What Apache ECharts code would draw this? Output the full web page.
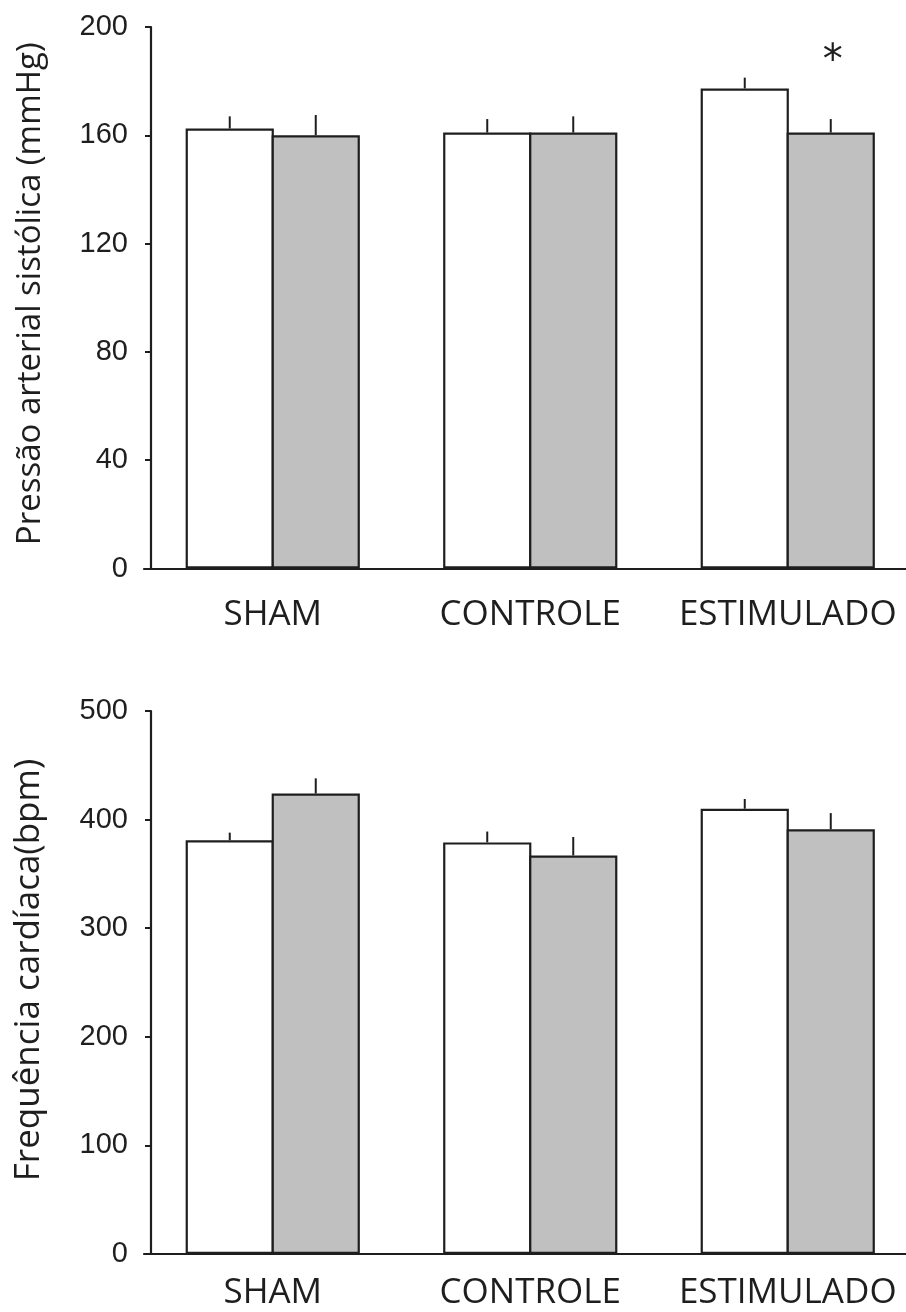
<!DOCTYPE html>
<html>
<head>
<meta charset="utf-8">
<script src="https://cdn.jsdelivr.net/npm/echarts@6/dist/echarts.min.js"></script>
<style>
  html, body { margin: 0; padding: 0; background: #fff; }
  #chart { width: 906px; height: 1312px; }
</style>
</head>
<body>
<div id="chart"></div>
<script>
// Groups on the horizontal axis
const categories = ['SHAM', 'CONTROLE', 'ESTIMULADO'];

// Systolic arterial pressure (mmHg): mean and SEM for the two conditions
const pasWhite = [162.5, 161, 177.3];
const pasWhiteErr = [4.5, 5, 4];
const pasGrey = [160, 161, 161];
const pasGreyErr = [7.5, 6, 5];
// Significance marks over the grey bars, with the height they sit at
const pasGreyMark = ['', '', '*'];
const pasMarkLevel = 187;

// Heart rate (bpm): mean and SEM for the two conditions
const fcWhite = [381, 379, 410];
const fcWhiteErr = [7, 10, 9];
const fcGrey = [424, 367, 391];
const fcGreyErr = [14, 17, 15];

// Tick settings of the value axes
const pasTicks = { min: 0, max: 200, interval: 40 };
const fcTicks = { min: 0, max: 500, interval: 100 };

const INK = '#1e1e1e';
const BAR_W = 86;          // visible bar width (outline centre to outline centre)
const BORDER = 2.2;        // bar outline width; ECharts draws it inside the bar box

const chart = echarts.init(document.getElementById('chart'), null, { renderer: 'canvas' });

function errorSeries(idx, values, errs, side) {
  return {
    type: 'custom',
    xAxisIndex: idx,
    yAxisIndex: idx,
    z: 1,
    silent: true,
    data: values.map((v, i) => [i, v, v + errs[i]]),
    renderItem: function (params, api) {
      const base = api.coord([api.value(0), api.value(1)]);
      const top = api.coord([api.value(0), api.value(2)]);
      const x = base[0] + side * BAR_W / 2;
      return {
        type: 'line',
        shape: { x1: x, y1: base[1], x2: x, y2: top[1] },
        style: { stroke: INK, lineWidth: 2 }
      };
    }
  };
}

function markSeries(idx, marks, level, side) {
  return {
    type: 'custom',
    xAxisIndex: idx,
    yAxisIndex: idx,
    silent: true,
    data: marks.map((m, i) => [i, level, m]),
    renderItem: function (params, api) {
      const text = marks[params.dataIndex];
      if (!text) return null;
      const p = api.coord([api.value(0), api.value(1)]);
      return {
        type: 'text',
        style: {
          x: p[0] + side * BAR_W / 2 + 2,
          y: p[1],
          text: text,
          fill: INK,
          font: '40px "DejaVu Sans"',
          align: 'center',
          verticalAlign: 'middle'
        }
      };
    }
  };
}

function barSeries(idx, values, fill) {
  // the box is widened by the outline so neighbouring bars share one edge
  const boxW = BAR_W + BORDER;
  return {
    type: 'bar',
    xAxisIndex: idx,
    yAxisIndex: idx,
    data: values,
    barWidth: boxW,
    barGap: (-BORDER / boxW * 100) + '%',
    z: 2,
    itemStyle: { color: fill, borderColor: INK, borderWidth: BORDER },
    emphasis: { disabled: true }
  };
}

function xAxisCfg(idx, margin) {
  return {
    type: 'category',
    gridIndex: idx,
    data: categories,
    axisLine: { show: true, lineStyle: { color: INK, width: 2.2 } },
    axisTick: { show: false },
    axisLabel: {
      interval: 0,
      margin: margin,
      fontFamily: 'Open Sans',
      fontSize: 35,
      color: INK
    }
  };
}

function yAxisCfg(idx, ticks, name, nameSize, namePad) {
  return {
    type: 'value',
    gridIndex: idx,
    min: ticks.min,
    max: ticks.max,
    interval: ticks.interval,
    offset: -7,
    name: name,
    nameLocation: 'middle',
    nameRotate: 90,
    nameGap: 104,
    nameTextStyle: {
      fontFamily: 'Open Sans',
      fontSize: nameSize,
      color: INK,
      padding: namePad
    },
    splitLine: { show: false },
    axisLine: { show: true, lineStyle: { color: INK, width: 2.2 } },
    axisTick: { show: true, length: 6, lineStyle: { color: INK, width: 2 } },
    axisLabel: {
      margin: 23,
      fontFamily: 'Liberation Sans',
      fontSize: 29,
      color: INK
    }
  };
}

chart.setOption({
  animation: false,
  backgroundColor: '#ffffff',
  grid: [
    { left: 144, width: 772.5, top: 27, height: 541.5, outerBoundsMode: 'none', containLabel: false },
    { left: 144, width: 772.5, top: 711, height: 543, outerBoundsMode: 'none', containLabel: false }
  ],
  xAxis: [xAxisCfg(0, 29), xAxisCfg(1, 22)],
  yAxis: [
    yAxisCfg(0, pasTicks, 'Pressão arterial sistólica (mmHg)', 33, [0, 0, 0, 8]),
    yAxisCfg(1, fcTicks, 'Frequência cardíaca(bpm)', 35, [0, 0, 0, 25])
  ],
  series: [
    barSeries(0, pasWhite, '#ffffff'),
    barSeries(0, pasGrey, '#c0c0c0'),
    errorSeries(0, pasWhite, pasWhiteErr, -1),
    errorSeries(0, pasGrey, pasGreyErr, 1),
    markSeries(0, pasGreyMark, pasMarkLevel, 1),
    barSeries(1, fcWhite, '#ffffff'),
    barSeries(1, fcGrey, '#c0c0c0'),
    errorSeries(1, fcWhite, fcWhiteErr, -1),
    errorSeries(1, fcGrey, fcGreyErr, 1)
  ]
});
</script>
</body>
</html>
